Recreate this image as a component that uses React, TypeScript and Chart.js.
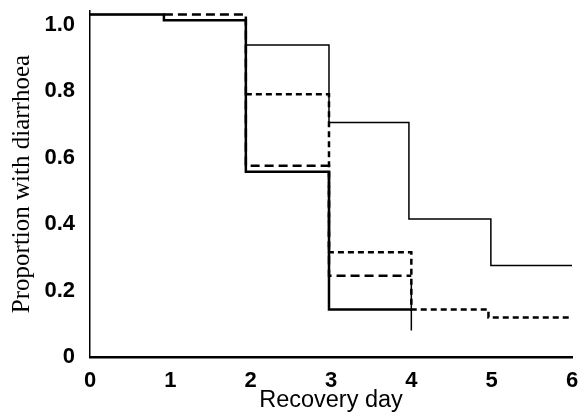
import React, { useEffect, useRef } from "react";
import { Chart, registerables } from "chart.js";

Chart.register(...registerables);

// Recovery day tick labels and y tick values
const xTickDays = [0, 1, 2, 3, 4, 5, 6];
const yTickValues = [0, 0.2, 0.4, 0.6, 0.8, 1.0];

// Thin solid curve: step start days and levels
const thinSolidDays = [0, 0.92, 1.94, 2.975, 3.97, 4.99, 6];
const thinSolidLevels = [1.03, 1.013, 0.938, 0.705, 0.415, 0.275, 0.275];

// Thick solid curve
const thickSolidDays = [0, 0.92, 1.94, 2.975, 4.0];
const thickSolidLevels = [1.03, 1.013, 0.557, 0.143, 0.143];

// Short-dashed curve
const shortDashDays = [1.94, 2.975, 4.0, 4.96, 6];
const shortDashLevels = [0.79, 0.315, 0.143, 0.119, 0.119];

// Long-dashed curve
const longDashDays = [0.92, 1.94, 2.975, 4.0];
const longDashLevels = [1.03, 0.575, 0.244, 0.244];

// Censoring tick at day 4
const censorDays = [4.0, 4.0];
const censorLevels = [0.225, 0.08];

const toPts = (xs: number[], ys: number[]) => xs.map((x, i) => ({ x, y: ys[i] }));

export default function App() {
  const ref = useRef<HTMLCanvasElement | null>(null);

  useEffect(() => {
    if (!ref.current) return;
    const base = {
      type: "line" as const,
      fill: false,
      pointRadius: 0,
      borderColor: "#000",
      tension: 0,
    };
    const chart = new Chart(ref.current, {
      type: "line",
      data: {
        datasets: [
          { ...base, data: toPts(thickSolidDays, thickSolidLevels), borderWidth: 2.5, stepped: "before" },
          { ...base, data: toPts(thinSolidDays, thinSolidLevels), borderWidth: 1.5, stepped: "before" },
          { ...base, data: toPts(censorDays, censorLevels), borderWidth: 1.5 },
          { ...base, data: toPts(shortDashDays, shortDashLevels), borderWidth: 2.5, borderDash: [6, 4], stepped: "before" },
          { ...base, data: toPts(longDashDays, longDashLevels), borderWidth: 2.5, borderDash: [9, 5], stepped: "before" },
        ] as any,
      },
      options: {
        animation: false,
        responsive: false,
        events: [],
        layout: { padding: { top: 11, right: 9, bottom: 0, left: 0 } },
        plugins: { legend: { display: false }, tooltip: { enabled: false } },
        scales: {
          x: {
            type: "linear",
            min: 0,
            max: 6,
            afterFit: (s: any) => { s.height = 61; s.paddingLeft = 0; s.paddingRight = 0; },
            afterBuildTicks: (s: any) => { s.ticks = xTickDays.map((v) => ({ value: v })); },
            grid: { display: false, drawTicks: false },
            border: { display: true, color: "#000", width: 2.5 },
            ticks: {
              color: "#000",
              padding: 11,
              maxRotation: 0,
              font: { family: "'Liberation Sans', Arial, sans-serif", size: 22, weight: "bold" },
              callback: (v: any) => String(v),
            },
            title: {
              display: true,
              text: "Recovery day",
              color: "#000",
              padding: { top: 0, bottom: 10 },
              font: { family: "'Liberation Sans', Arial, sans-serif", size: 23.5, lineHeight: 0.6 },
            },
          },
          y: {
            type: "linear",
            min: 0,
            max: 1.0406,
            afterFit: (s: any) => { s.width = 90; s.paddingTop = 0; s.paddingBottom = 0; },
            afterBuildTicks: (s: any) => { s.ticks = yTickValues.map((v) => ({ value: v })); },
            grid: { display: false, drawTicks: false },
            border: { display: true, color: "#000", width: 1.5 },
            ticks: {
              color: "#000",
              padding: 15,
              font: { family: "'Liberation Sans', Arial, sans-serif", size: 22, weight: "bold" },
              callback: (v: any) => (v === 0 ? "0" : Number(v).toFixed(1)),
            },
            title: {
              display: true,
              text: "Proportion with diarrhoea",
              color: "#000",
              padding: { top: 7, bottom: 0 },
              font: { family: "'Liberation Serif', 'Times New Roman', serif", size: 25 },
            },
          },
        },
      } as any,
    });
    return () => chart.destroy();
  }, []);

  return (
    <div style={{ position: "fixed", left: 0, top: 0, width: 581, height: 418, background: "#fff" }}>
      <canvas ref={ref} width={581} height={418} style={{ display: "block", width: 581, height: 418 }} />
    </div>
  );
}
